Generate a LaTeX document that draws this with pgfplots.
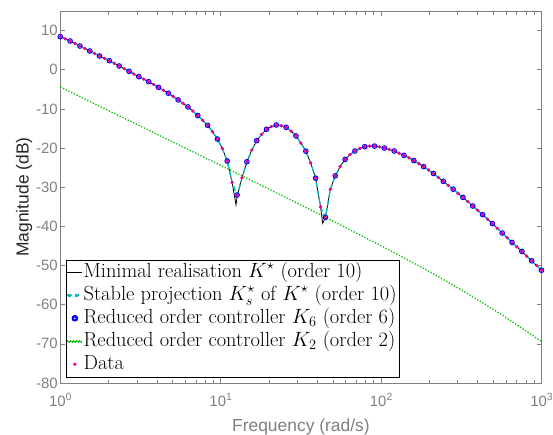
\documentclass[border=0pt]{standalone}
\usepackage{fontspec}
\usepackage{pgfplots}
\usepackage{pgfplotstable}
\pgfplotsset{compat=1.18}
\newfontfamily\arial{Liberation Sans}

\definecolor{axgray}{rgb}{0.5,0.5,0.5}
\definecolor{mcyan}{rgb}{0,0.75,0.75}
\definecolor{mgreen}{rgb}{0,0.78,0}

% x column is log10 of the frequency (rad/s), y is magnitude in dB
\pgfplotstableread{
x y
0.0000 8.44
0.0306 7.90
0.0612 7.34
0.0918 6.70
0.1224 6.06
0.1531 5.43
0.1837 4.79
0.2143 4.15
0.2449 3.51
0.2755 2.91
0.3061 2.31
0.3367 1.64
0.3673 0.96
0.3980 0.28
0.4286 -0.40
0.4592 -1.09
0.4898 -1.78
0.5204 -2.41
0.5510 -3.05
0.5816 -3.77
0.6122 -4.50
0.6429 -5.24
0.6735 -6.00
0.7041 -6.83
0.7347 -7.70
0.7653 -8.58
0.7959 -9.50
0.8265 -10.55
0.8571 -11.70
0.8878 -12.90
0.9184 -14.20
0.9490 -15.80
0.9796 -17.70
1.0102 -20.10
1.0408 -23.30
1.0714 -28.80
1.1020 -32.00
1.1327 -27.60
1.1633 -23.50
1.1939 -20.50
1.2245 -18.10
1.2551 -16.50
1.2857 -15.20
1.3163 -14.50
1.3469 -14.10
1.3776 -14.30
1.4082 -14.70
1.4388 -15.70
1.4694 -16.90
1.5000 -18.70
1.5306 -20.80
1.5612 -23.80
1.5918 -27.70
1.6224 -35.00
1.6531 -37.70
1.6837 -30.50
1.7143 -27.10
1.7449 -24.70
1.7755 -22.90
1.8061 -21.70
1.8367 -20.75
1.8673 -20.10
1.8980 -19.65
1.9286 -19.50
1.9592 -19.50
1.9898 -19.70
2.0204 -20.00
2.0510 -20.35
2.0816 -20.75
2.1122 -21.30
2.1429 -21.86
2.1735 -22.50
2.2041 -23.20
2.2347 -23.95
2.2653 -24.75
2.2959 -25.60
2.3265 -26.50
2.3571 -27.50
2.3878 -28.50
2.4184 -29.50
2.4490 -30.50
2.4796 -31.55
2.5102 -32.60
2.5408 -33.70
2.5714 -34.80
2.6020 -35.90
2.6327 -37.00
2.6633 -38.15
2.6939 -39.30
2.7245 -40.50
2.7551 -41.70
2.7857 -42.90
2.8163 -44.10
2.8469 -45.25
2.8776 -46.40
2.9082 -47.60
2.9388 -48.80
2.9694 -50.00
3.0000 -51.20
}\datatab

\pgfplotstableread{
x y
0.0000 8.44
0.0306 7.90
0.0612 7.34
0.0918 6.70
0.1224 6.06
0.1531 5.43
0.1837 4.79
0.2143 4.15
0.2449 3.51
0.2755 2.91
0.3061 2.31
0.3367 1.64
0.3673 0.96
0.3980 0.28
0.4286 -0.40
0.4592 -1.09
0.4898 -1.78
0.5204 -2.41
0.5510 -3.05
0.5816 -3.77
0.6122 -4.50
0.6429 -5.24
0.6735 -6.00
0.7041 -6.83
0.7347 -7.70
0.7653 -8.58
0.7959 -9.50
0.8265 -10.55
0.8571 -11.70
0.8878 -12.90
0.9184 -14.20
0.9490 -15.80
0.9796 -17.70
1.0102 -20.10
1.0408 -23.30
1.0714 -28.80
1.0954 -34.50
1.1020 -32.40
1.1327 -27.60
1.1633 -23.50
1.1939 -20.50
1.2245 -18.10
1.2551 -16.50
1.2857 -15.20
1.3163 -14.50
1.3469 -14.10
1.3776 -14.30
1.4082 -14.70
1.4388 -15.70
1.4694 -16.90
1.5000 -18.70
1.5306 -20.80
1.5612 -23.80
1.5918 -27.70
1.6224 -35.00
1.6360 -39.20
1.6531 -37.70
1.6837 -30.50
1.7143 -27.10
1.7449 -24.70
1.7755 -22.90
1.8061 -21.70
1.8367 -20.75
1.8673 -20.10
1.8980 -19.65
1.9286 -19.50
1.9592 -19.50
1.9898 -19.70
2.0204 -20.00
2.0510 -20.35
2.0816 -20.75
2.1122 -21.30
2.1429 -21.86
2.1735 -22.50
2.2041 -23.20
2.2347 -23.95
2.2653 -24.75
2.2959 -25.60
2.3265 -26.50
2.3571 -27.50
2.3878 -28.50
2.4184 -29.50
2.4490 -30.50
2.4796 -31.55
2.5102 -32.60
2.5408 -33.70
2.5714 -34.80
2.6020 -35.90
2.6327 -37.00
2.6633 -38.15
2.6939 -39.30
2.7245 -40.50
2.7551 -41.70
2.7857 -42.90
2.8163 -44.10
2.8469 -45.25
2.8776 -46.40
2.9082 -47.60
2.9388 -48.80
2.9694 -50.00
3.0000 -51.20
}\kstartab

\pgfplotstableread{
x y
0.0000 8.44
0.0612 7.34
0.1224 6.06
0.1837 4.79
0.2449 3.51
0.3061 2.31
0.3673 0.96
0.4286 -0.40
0.4898 -1.78
0.5510 -3.05
0.6122 -4.50
0.6735 -6.00
0.7347 -7.70
0.7959 -9.50
0.8571 -11.70
0.9184 -14.20
0.9796 -17.70
1.0408 -23.30
1.1020 -32.00
1.1633 -23.50
1.2245 -18.10
1.2857 -15.20
1.3469 -14.10
1.4082 -14.70
1.4694 -16.90
1.5306 -20.80
1.5918 -27.70
1.6531 -37.70
1.7143 -27.10
1.7755 -22.90
1.8367 -20.75
1.8980 -19.65
1.9592 -19.50
2.0204 -20.00
2.0816 -20.75
2.1429 -21.86
2.2041 -23.20
2.2653 -24.75
2.3265 -26.50
2.3878 -28.50
2.4490 -30.50
2.5102 -32.60
2.5714 -34.80
2.6327 -37.00
2.6939 -39.30
2.7551 -41.70
2.8163 -44.10
2.8776 -46.40
2.9388 -48.80
3.0000 -51.20
}\ksixtab

\pgfplotstableread{
x y
0.000 -4.41
0.250 -9.41
0.500 -14.41
0.750 -19.41
1.000 -24.43
1.250 -29.46
1.500 -34.54
1.750 -39.71
2.000 -44.96
2.125 -47.66
2.250 -50.41
2.375 -53.26
2.500 -56.21
2.625 -59.31
2.750 -62.51
2.875 -65.91
3.000 -69.41
}\ktwotab

\begin{document}
\begin{tikzpicture}
\begin{axis}[
  scale only axis,
  width=481.2bp, height=372bp,
  xmin=0, xmax=3, ymin=-80, ymax=15,
  clip=false,
  xtick={0,1,2,3},
  xticklabels={10\raisebox{6bp}{\fontsize{10.5}{10.5}\selectfont 0},
               10\raisebox{6bp}{\fontsize{10.5}{10.5}\selectfont 1},
               10\raisebox{6bp}{\fontsize{10.5}{10.5}\selectfont 2},
               10\raisebox{6bp}{\fontsize{10.5}{10.5}\selectfont 3}},
  minor xtick={0.30103,0.47712,0.60206,0.69897,0.77815,0.84510,0.90309,0.95424,
               1.30103,1.47712,1.60206,1.69897,1.77815,1.84510,1.90309,1.95424,
               2.30103,2.47712,2.60206,2.69897,2.77815,2.84510,2.90309,2.95424},
  ytick={-80,-70,-60,-50,-40,-30,-20,-10,0,10},
  yticklabels={-80,-70,-60,-50,-40,-30,-20,-10,0,10},
  tick align=inside,
  major tick length=5bp, minor tick length=3.5bp,
  axis line style={axgray, line width=0.6bp},
  every tick/.style={axgray, line width=0.6bp},
  tick label style={font=\arial\fontsize{15}{15}\selectfont, text=axgray},
  xticklabel style={yshift=-7bp},
  yticklabel style={xshift=1bp},
  xlabel={Frequency (rad/s)},
  ylabel={Magnitude (dB)},
  xlabel style={font=\arial\fontsize{17.5}{17.5}\selectfont, text=axgray, yshift=-5bp},
  ylabel style={font=\arial\fontsize{17.5}{17.5}\selectfont, text=black!85},
  ylabel shift=-3bp,
  legend cell align=left,
  legend style={at={(0.0118,0.0161)}, anchor=south west,
    draw=black, fill=white,
    font=\fontsize{20.5}{22}\selectfont,
    inner sep=1bp, row sep=0bp,
    nodes={inner sep=1.3bp, text height=15.3bp, text depth=5.1bp}},
]
\addplot[draw=black, line width=0.8bp,
  legend image code/.code={\fill[fill=black] (0bp,-0.4bp) rectangle (14bp,0.4bp);}]
  table {\kstartab};
\addlegendentry{Minimal realisation $K^\star$ (order 10)}
\addplot[draw=mcyan, line width=1.4bp, dash pattern=on 5bp off 3bp,
  legend image code/.code={\fill[fill=mcyan]
    (0bp,-0.7bp) rectangle (4bp,0.7bp) (7.5bp,-0.7bp) rectangle (11.5bp,0.7bp);}]
  table {\datatab};
\addlegendentry{Stable projection $K^\star_s$ of $K^\star$ (order 10)}
\addplot[draw=blue, only marks, mark=o, mark size=2.3bp, line width=1bp,
  legend image code/.code={\fill[fill=blue, even odd rule]
    (7bp,0bp) circle[radius=2.8bp] (7bp,0bp) circle[radius=1.8bp];}]
  table {\ksixtab};
\addlegendentry{Reduced order controller $K_6$ (order 6)}
\addplot[draw=mgreen, line width=1.3bp, dash pattern=on 1.3bp off 1.7bp,
  legend image code/.code={\foreach \q in {0.6,3.6,6.6,9.6,12.6}
    {\fill[fill=mgreen] (\q bp-0.65bp,-0.65bp) rectangle (\q bp+0.65bp,0.65bp);}}]
  table {\ktwotab};
\addlegendentry{Reduced order controller $K_2$ (order 2)}
\addplot[draw=magenta, fill=magenta, only marks, mark=*, mark size=1.5bp,
  legend image code/.code={\fill[fill=magenta] (7bp,0bp) circle[radius=1.5bp];}]
  table {\datatab};
\addlegendentry{Data}
\end{axis}
\pgfresetboundingbox
\path[use as bounding box] (-60.3bp,-52bp) rectangle (492.7bp,383bp);
\end{tikzpicture}
\end{document}
